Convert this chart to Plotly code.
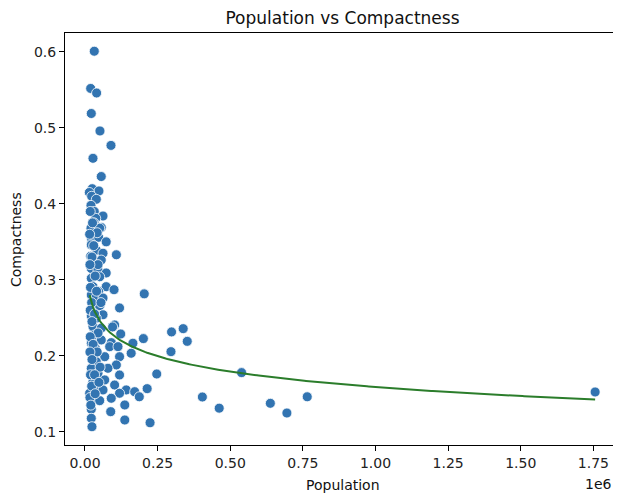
import numpy as np
import plotly.graph_objects as go

# Population (in thousands) and compactness values
population_k = [
    32, 19.6, 40, 21.7, 51.6, 89.5, 27.5, 56, 25, 48, 15, 23, 39, 20.6, 32, 62, 37, 20.6, 56,
    31, 50.6, 21.7, 47, 73, 21.7, 39, 62, 108, 19.6, 31, 56, 21.7, 44.7, 73, 21.7, 50.6,
    27.5, 73, 100, 47, 204, 21.7, 39, 62, 27.5, 119, 50.6, 21.7, 62, 39, 102, 27.5, 56, 95,
    123, 33, 21.7, 90.5, 56, 85, 113.6, 35.5, 165, 159, 27.5, 68, 119, 39, 108, 21.7, 79,
    44.7, 119, 27.5, 68, 102, 39, 16, 62, 142, 171, 119, 90.5, 27.5, 50.6, 137, 21.7, 88.5,
    21.7, 137, 24,
    298, 338, 352, 296, 247, 214, 187, 224, 404, 462, 539, 638, 695, 765, 1756, 201,
    18, 26, 42, 16, 30, 24, 45, 17, 35, 19, 40, 23, 55, 18, 33, 24, 45, 18, 28, 42, 17,
    24, 52, 19, 33, 23, 48, 17, 35, 20,
]
compactness = [
    0.601, 0.552, 0.546, 0.519, 0.496, 0.477, 0.460, 0.436, 0.420, 0.417, 0.415, 0.410, 0.406,
    0.398, 0.390, 0.384, 0.381, 0.368, 0.369,
    0.375, 0.368, 0.355, 0.356, 0.350, 0.346, 0.339, 0.335, 0.333, 0.331, 0.324, 0.326, 0.315,
    0.313, 0.309, 0.302, 0.304, 0.291, 0.291, 0.287, 0.2845, 0.2815, 0.280, 0.277, 0.276,
    0.265, 0.263, 0.266, 0.2525, 0.254, 0.2495, 0.2406, 0.2384, 0.2363, 0.238, 0.2287, 0.2274,
    0.2165, 0.2173, 0.2208, 0.212, 0.212, 0.210, 0.2165, 0.2033, 0.201, 0.1988, 0.1988, 0.1922,
    0.1879, 0.1835, 0.1835, 0.177, 0.1747, 0.166, 0.1682, 0.1615, 0.1593, 0.1506, 0.155, 0.155,
    0.1527, 0.1506, 0.144, 0.1418, 0.1409, 0.1352, 0.1295, 0.1264, 0.1177, 0.1154, 0.1066,
    0.2314, 0.2357, 0.219, 0.2054, 0.176, 0.1567, 0.146, 0.1118, 0.1457, 0.131, 0.1778, 0.1374,
    0.1246, 0.146, 0.1523, 0.2226,
    0.39, 0.375, 0.362, 0.36, 0.345, 0.33, 0.32, 0.32, 0.305, 0.29, 0.285, 0.27, 0.27, 0.26,
    0.255, 0.245, 0.23, 0.225, 0.215, 0.205, 0.205, 0.195, 0.185, 0.175, 0.175, 0.16, 0.165,
    0.145, 0.15, 0.135,
]

# Logarithmic trend: compactness = fit_a + fit_b * ln(population)
fit_a = 0.5631
fit_b = -0.02926

x_ticks = [0, 250000, 500000, 750000, 1000000, 1250000, 1500000, 1750000]
x_tick_labels = ["0.00", "0.25", "0.50", "0.75", "1.00", "1.25", "1.50", "1.75"]
y_ticks = [0.1, 0.2, 0.3, 0.4, 0.5, 0.6]
y_tick_labels = ["0.1", "0.2", "0.3", "0.4", "0.5", "0.6"]

population = np.array(population_k) * 1000.0
curve_x = np.linspace(population.min() + 1000, population.max(), 300)
curve_y = fit_a + fit_b * np.log(curve_x)

FONT = "DejaVu Sans, Liberation Sans, sans-serif"

# the page body has an 8px margin, so the figure is 8px smaller than the window
W, H = 613, 485

fig = go.Figure()
fig.add_trace(go.Scatter(
    x=population, y=compactness, mode="markers",
    marker=dict(size=10, color="#3274b1", line=dict(color="white", width=0.8)),
    showlegend=False, hoverinfo="x+y",
))
fig.add_trace(go.Scatter(
    x=curve_x, y=curve_y, mode="lines",
    line=dict(color="#2b7d2b", width=2), showlegend=False,
))

axis_common = dict(
    showgrid=False, zeroline=False, showline=True, mirror=True,
    linecolor="black", linewidth=1, ticks="outside", ticklen=5,
    tickcolor="black", tickwidth=1, automargin=False,
    tickfont=dict(family=FONT, size=14, color="#222"),
)

fig.update_layout(
    width=W, height=H,
    margin=dict(l=57, r=1, t=25, b=48, autoexpand=False),
    paper_bgcolor="white", plot_bgcolor="white",
    title=dict(text="Population vs Compactness", x=334.5 / W, xanchor="center",
               y=1 - 10 / H, yanchor="middle", yref="container",
               font=dict(family=FONT, size=17, color="#111")),
    xaxis=dict(range=[-68800, 1841600], tickvals=x_ticks, ticktext=x_tick_labels,
               **axis_common),
    yaxis=dict(range=[0.0825, 0.625], tickvals=y_ticks, ticktext=y_tick_labels,
               **axis_common),
    annotations=[
        dict(text="Population", xref="paper", yref="paper", x=0.5, y=-0.097,
             xanchor="center", yanchor="middle", showarrow=False,
             font=dict(family=FONT, size=14, color="#111")),
        dict(text="1e6", xref="paper", yref="paper", x=0.9604, y=-0.095,
             xanchor="center", yanchor="middle", showarrow=False,
             font=dict(family=FONT, size=14, color="#111")),
        dict(text="Compactness", xref="paper", yref="paper", x=-0.0883, y=0.5,
             xanchor="center", yanchor="middle", textangle=-90, showarrow=False,
             font=dict(family=FONT, size=14, color="#111")),
    ],
)

fig.write_html("out.html")
